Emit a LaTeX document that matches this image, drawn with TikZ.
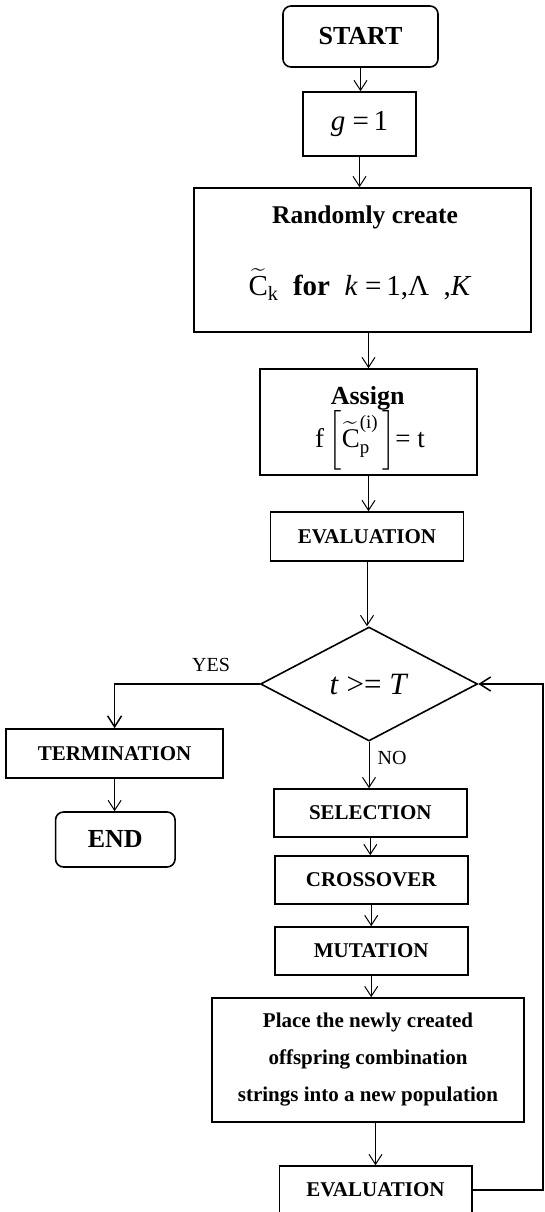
\documentclass[tikz,border=0pt]{standalone}
\usepackage{amsmath}
\usepackage{fontspec}
\setmainfont{Liberation Serif}
\usetikzlibrary{shapes.geometric,arrows.meta}
\begin{document}
\begin{tikzpicture}[x=1pt,y=-1pt,
  box/.style={draw, line width=1.6pt, inner sep=0pt, align=center},
  rbox/.style={box, rounded corners=8pt},
  fbig/.style={font=\fontsize{26}{30}\selectfont\bfseries},
  fmid/.style={font=\fontsize{21}{25}\selectfont\bfseries},
  flab/.style={font=\fontsize{20}{24}\selectfont, inner sep=0pt},
  txt/.style={inner sep=0pt, anchor=base},
  arr/.style={-{Straight Barb[length=10pt,width=13pt]}, line width=1pt},
  arrw/.style={-{Straight Barb[length=11pt,width=14pt]}, line width=1.5pt}]
\useasboundingbox (0,0) rectangle (544,1212);
\fill[white] (0,0) rectangle (544,1212);
\clip (0,0) rectangle (544,1212);

\node[rbox,fbig,minimum width=155pt,minimum height=61pt] (start) at (360.5,36.5) {START};
\node[box,minimum width=113pt,minimum height=64pt,font=\fontsize{29}{32}\selectfont] (g) at (359.5,124) {\textit{g} =\,1};

\node[box,minimum width=337pt,minimum height=144pt] (rand) at (362.5,260) {};
\node[txt,font=\fontsize{25.5}{30}\selectfont\bfseries] (randt1) at (365,223) {Randomly create};
\node[txt,font=\fontsize{29}{32}\selectfont] (randt2) at (360,295) {$\widetilde{\text{C}}_{\text{k}}$\ \ \textbf{for}\ \ \textit{k} =\,1,Λ\ \ ,\textit{K}};

\node[box,minimum width=217pt,minimum height=106pt] (assign) at (368.5,422) {};
\node[txt,fbig] (assignt1) at (367.7,404) {Assign};
\node[txt,font=\fontsize{27}{30}\selectfont] (assignt2) at (370,447) {f\,$\left[\widetilde{\text{C}}^{\text{(i)}}_{\text{p}}\,\right]$= t};

\node[box,fmid,minimum width=193pt,minimum height=49pt] (eval1) at (367,536.5) {EVALUATION};

\node[draw,diamond,aspect=1.9,line width=1.6pt,minimum width=217pt,minimum height=114pt,inner sep=0pt,font=\fontsize{31}{34}\selectfont] (dia) at (369,684) {\textit{t} >= \textit{T}};

\node[box,fmid,minimum width=217pt,minimum height=49pt] (term) at (114.6,753.5) {TERMINATION};
\node[rbox,fbig,minimum width=119.5pt,minimum height=55pt] (end) at (115.3,839.5) {END};

\node[box,fmid,minimum width=193pt,minimum height=48pt] (sel) at (370.3,813) {SELECTION};
\node[box,fmid,minimum width=193pt,minimum height=48pt] (cross) at (371.2,880) {CROSSOVER};
\node[box,fmid,minimum width=193pt,minimum height=48pt] (mut) at (371.2,951) {MUTATION};
\node[box,font=\fontsize{21}{37}\selectfont\bfseries,minimum width=312pt,minimum height=124pt] (place) at (368,1060)
  {Place the newly created\\offspring combination\\strings into a new population};
\node[box,fmid,minimum width=192.4pt,minimum height=48pt] (eval2) at (375.5,1190) {EVALUATION};

\node[flab] (yes) at (211,665) {YES};
\node[flab,anchor=west] (no) at (377.5,758) {NO};

\coordinate (rt) at (543,0);

\draw[arr] (start.south) -- (start.south |- g.north);
\draw[arr] (g.south) -- (g.south |- rand.north);
\draw[arr] (assign.north |- rand.south) -- (assign.north);
\draw[arr] (assign.south) -- (assign.south |- eval1.north);
\draw[arr] (eval1.south) -- (eval1.south |- dia.north);
\draw[arrw] (dia.west) -| (term.north);
\draw[arr] (term.south) -- (term.south |- end.north);
\draw[arr] (dia.south) -- (dia.south |- sel.north);
\draw[arr] (sel.south) -- (sel.south |- cross.north);
\draw[arr] (cross.south) -- (cross.south |- mut.north);
\draw[arr] (mut.south) -- (mut.south |- place.north);
\draw[arr] (place.south -| eval2.north) -- (eval2.north);
\draw[arrw] (eval2.east) -- (eval2.east -| rt) |- (dia.east);
\end{tikzpicture}
\end{document}
